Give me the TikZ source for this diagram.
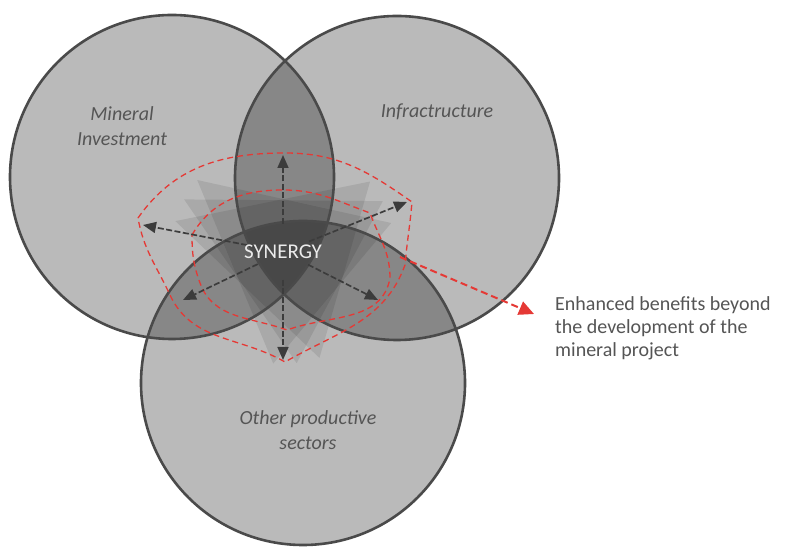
\documentclass[tikz,border=0pt]{standalone}
\usepackage{fontspec}
\setmainfont{Carlito}
\usetikzlibrary{arrows.meta}
\definecolor{ringgray}{HTML}{4A4A4A}
\definecolor{labelgray}{HTML}{555555}
\definecolor{arrowgray}{HTML}{3C3C3C}
\definecolor{synred}{HTML}{E53935}

\begin{document}
\begin{tikzpicture}[x=1pt, y=1pt,
        disc/.style={circle, minimum size=324pt, inner sep=0pt, fill=black, fill opacity=0.27},
        ring/.style={draw=ringgray, line width=2.6pt},
        sector/.style={font=\fontsize{20}{25}\selectfont\itshape, text=labelgray, align=center},
        note/.style={font=\fontsize{20}{23}\selectfont, text=labelgray, align=left, inner sep=0pt},
        spoke/.style={draw=arrowgray, line width=1.7pt, dash pattern=on 6pt off 2.5pt, -{Triangle[length=13pt, width=11pt]}, shorten <=28pt},
        zone/.style={draw=synred, line width=1.3pt, dash pattern=on 6pt off 4pt},
        spill/.style={draw=synred, line width=2pt, dash pattern=on 7pt off 4pt, -{Triangle[length=15pt, width=14pt]}},
        petal/.style={fill=black, fill opacity=0.09}
    ]
    \useasboundingbox[fill=white] (0,0) rectangle (789,548);

    % The three sectors
    \node[disc] (mineral) at (172,371) {};
    \node[disc] (infra) at (397,370) {};
    \node[disc] (other) at (303,165) {};

    % Centre of the synergy
    \coordinate (syn) at (283,296);

    % Translucent triangles round the centre
    \foreach \a in {0,12,24}
        \fill[petal] ([shift={(140+\a:112)}]syn) -- ([shift={(15+\a:112)}]syn) -- ([shift={(265+\a:112)}]syn) -- cycle;

    % Outlines on top
    \foreach \c in {mineral, infra, other}
        \draw[ring] (\c.center) circle[radius=162];

    % Red dashed zones
    \draw[zone] (138,330) to[out=55,in=180] (285,395) to[out=0,in=145] (412,346)
        to[out=-95,in=85] (405,283) to[out=-110,in=30] (285,186)
        to[out=150,in=-65] (170,253) to[out=115,in=-80] (138,330);
    \draw[zone] (192,313) to[out=60,in=180] (283,358) to[out=0,in=160] (370,335)
        to[out=-70,in=90] (390,270) to[out=-100,in=20] (287,218)
        to[out=160,in=-70] (200,265) to[out=110,in=-90] (192,313);

    % Spokes
    \coordinate (tipN) at (283,393);
    \coordinate (tipW) at (143,323);
    \coordinate (tipNE) at (407,346);
    \coordinate (tipSE) at (378,248);
    \coordinate (tipSW) at (183,248);
    \coordinate (tipS) at (283,188);
    \foreach \t in {tipN, tipW, tipNE, tipSE, tipSW, tipS}
        \draw[spoke] (syn) -- (\t);

    % Labels
    \node[sector] (lblmineral) at (122,422) {Mineral\\Investment};
    \node[sector] (lblinfra) at (437,436) {Infractructure};
    \node[sector] (lblother) at (308,118) {Other productive\\sectors};
    \node[font=\fontsize{21}{24}\selectfont, text=white!92!black] (synlabel) at (syn) {SYNERGY};

    % Benefits beyond the project
    \node[note, anchor=north west] (benefits) at (555,252) {Enhanced benefits beyond\\the development of the\\mineral project};
    \coordinate (edge) at (400,291);
    \coordinate (spilltip) at (534,234);
    \draw[spill] (edge) -- (spilltip);

\end{tikzpicture}
\end{document}
